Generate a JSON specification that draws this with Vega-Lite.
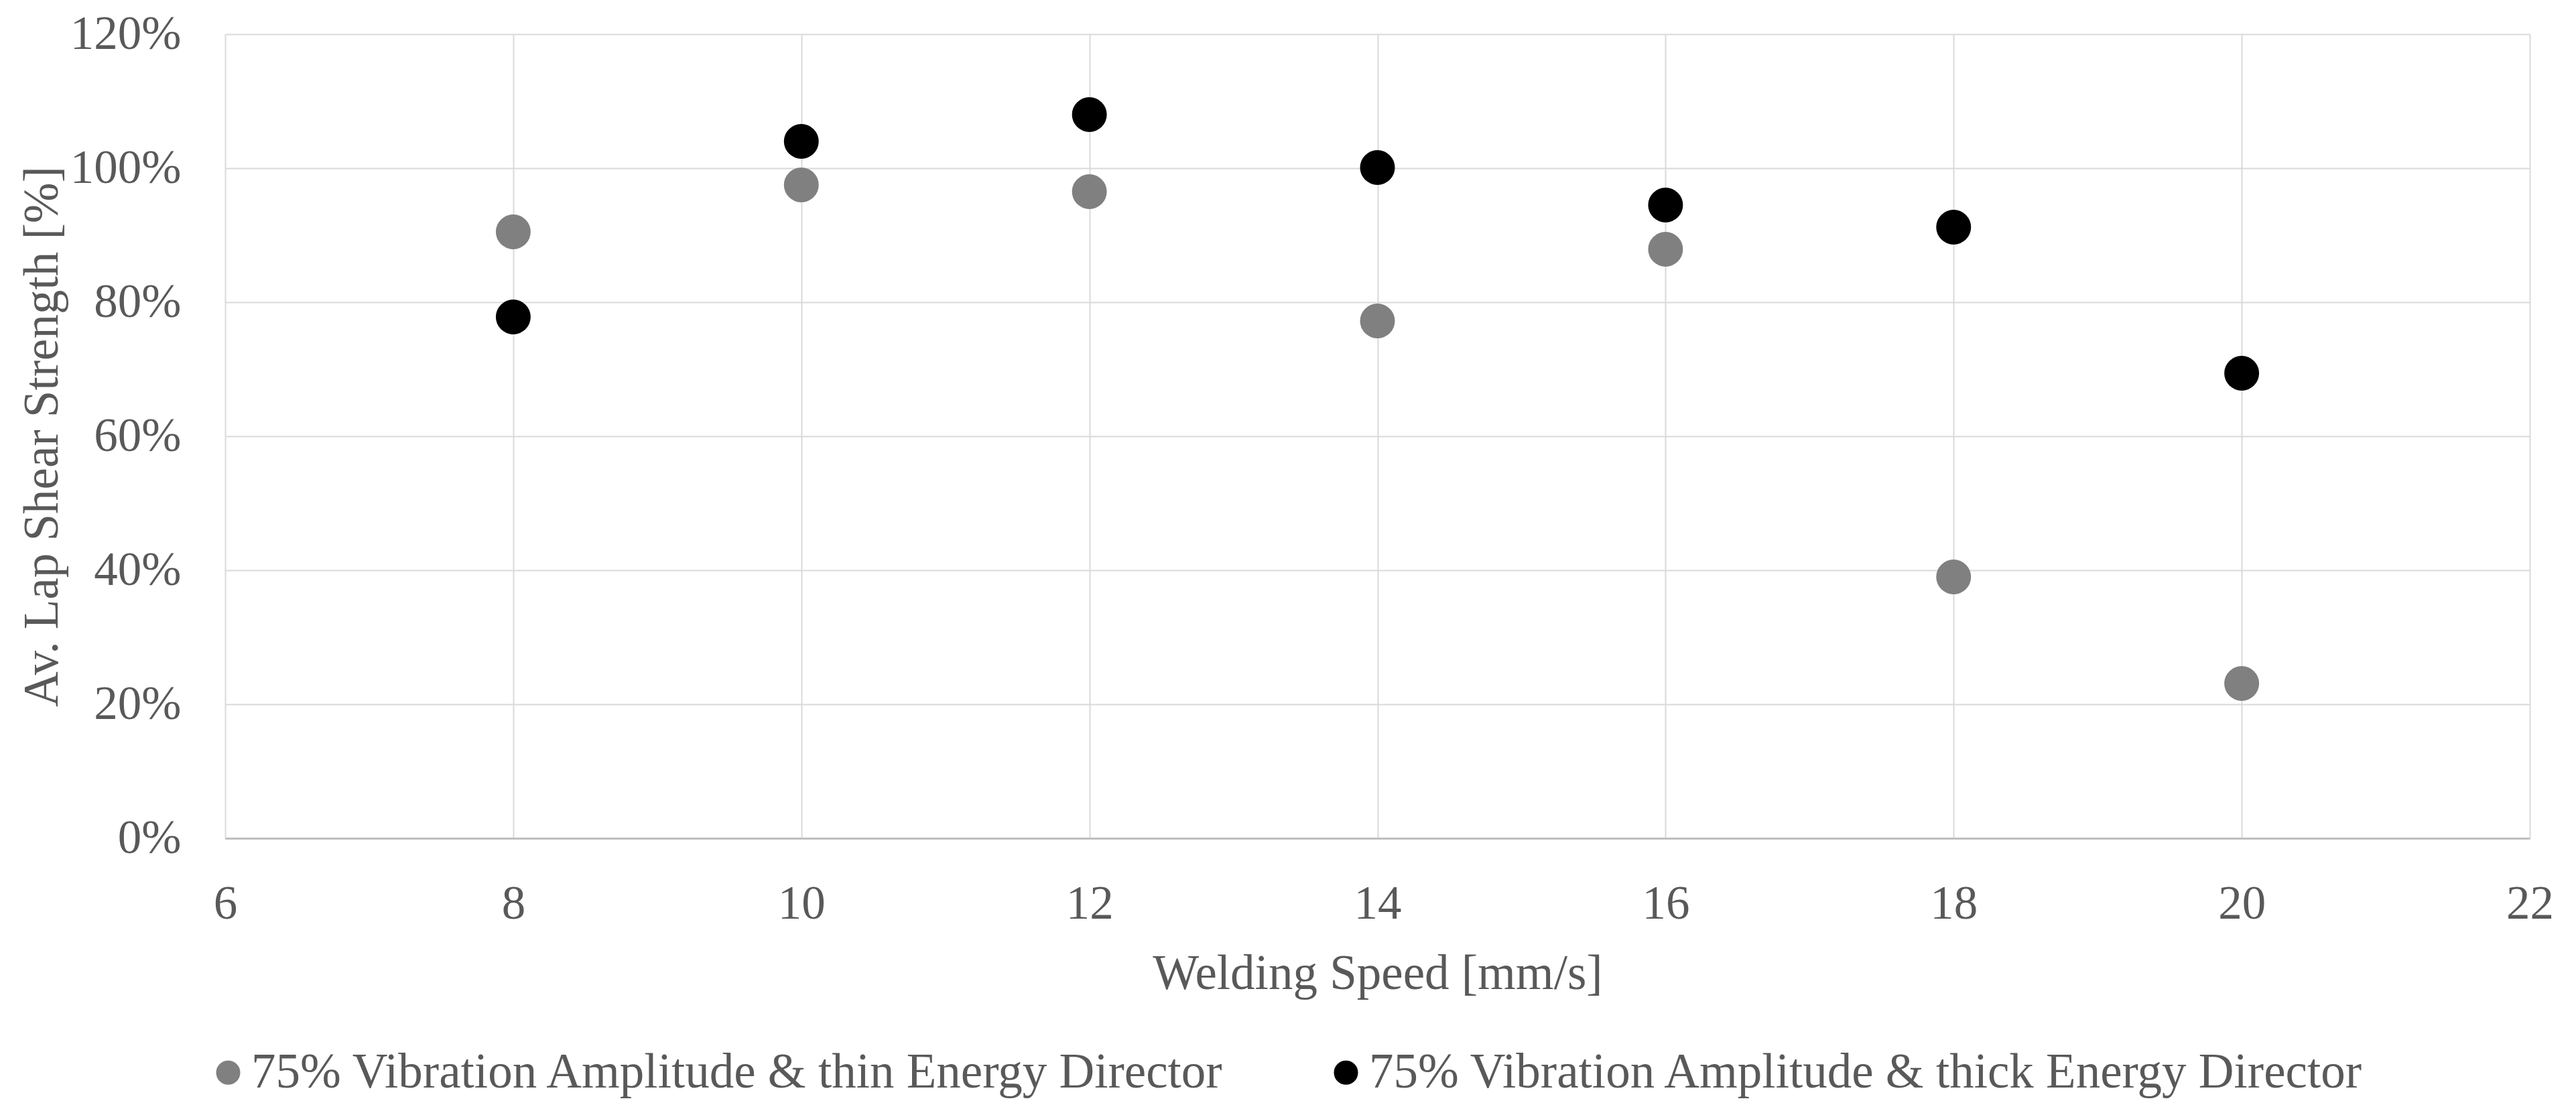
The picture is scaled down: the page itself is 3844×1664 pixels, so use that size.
{
  "$schema": "https://vega.github.io/schema/vega-lite/v6.json",
  "width": 3439,
  "height": 1200,
  "autosize": {"type": "none"},
  "padding": {"left": 336, "top": 51, "right": 69, "bottom": 413},
  "background": "white",
  "config": {
    "font": "Liberation Serif",
    "view": {"stroke": null},
    "axis": {
      "labelFont": "Liberation Serif",
      "titleFont": "Liberation Serif",
      "labelFontSize": 71,
      "titleFontSize": 73,
      "labelColor": "#595959",
      "titleColor": "#595959",
      "titleFontWeight": "normal",
      "gridColor": "#d9d9d9",
      "gridWidth": 2,
      "ticks": false,
      "labelFlush": false,
      "labelOverlap": false
    },
    "legend": {
      "labelFont": "Liberation Serif",
      "labelFontSize": 73,
      "labelColor": "#595959"
    }
  },
  "data": {
    "values": [
      {"speed": 8, "strength": 0.905, "series": "75% Vibration Amplitude & thin Energy Director"},
      {"speed": 10, "strength": 0.975, "series": "75% Vibration Amplitude & thin Energy Director"},
      {"speed": 12, "strength": 0.965, "series": "75% Vibration Amplitude & thin Energy Director"},
      {"speed": 14, "strength": 0.772, "series": "75% Vibration Amplitude & thin Energy Director"},
      {"speed": 16, "strength": 0.879, "series": "75% Vibration Amplitude & thin Energy Director"},
      {"speed": 18, "strength": 0.39, "series": "75% Vibration Amplitude & thin Energy Director"},
      {"speed": 20, "strength": 0.231, "series": "75% Vibration Amplitude & thin Energy Director"},
      {"speed": 8, "strength": 0.778, "series": "75% Vibration Amplitude & thick Energy Director"},
      {"speed": 10, "strength": 1.04, "series": "75% Vibration Amplitude & thick Energy Director"},
      {"speed": 12, "strength": 1.08, "series": "75% Vibration Amplitude & thick Energy Director"},
      {"speed": 14, "strength": 1.001, "series": "75% Vibration Amplitude & thick Energy Director"},
      {"speed": 16, "strength": 0.945, "series": "75% Vibration Amplitude & thick Energy Director"},
      {"speed": 18, "strength": 0.912, "series": "75% Vibration Amplitude & thick Energy Director"},
      {"speed": 20, "strength": 0.694, "series": "75% Vibration Amplitude & thick Energy Director"}
    ]
  },
  "mark": {"type": "circle", "size": 2700, "opacity": 1},
  "encoding": {
    "x": {
      "field": "speed",
      "type": "quantitative",
      "scale": {"domain": [6, 22], "nice": false, "zero": false},
      "axis": {
        "values": [6, 8, 10, 12, 14, 16, 18, 20, 22],
        "title": "Welding Speed [mm/s]",
        "domainColor": "#bfbfbf",
        "domainWidth": 3,
        "labelPadding": 63,
        "titlePadding": 33
      }
    },
    "y": {
      "field": "strength",
      "type": "quantitative",
      "scale": {"domain": [0, 1.2], "nice": false},
      "axis": {
        "values": [0, 0.2, 0.4, 0.6, 0.8, 1.0, 1.2],
        "format": ".0%",
        "title": "Av. Lap Shear Strength [%]",
        "domain": false,
        "labelPadding": 66,
        "titlePadding": 36
      }
    },
    "color": {
      "field": "series",
      "type": "nominal",
      "scale": {
        "domain": ["75% Vibration Amplitude & thin Energy Director", "75% Vibration Amplitude & thick Energy Director"],
        "range": ["#808080", "#000000"]
      },
      "legend": {
        "title": null,
        "orient": "none",
        "direction": "horizontal",
        "legendX": -32,
        "legendY": 1513,
        "symbolType": "circle",
        "symbolSize": 1300,
        "symbolOpacity": 1,
        "labelOffset": -2,
        "columnPadding": 143,
        "labelLimit": 3000
      }
    }
  }
}
